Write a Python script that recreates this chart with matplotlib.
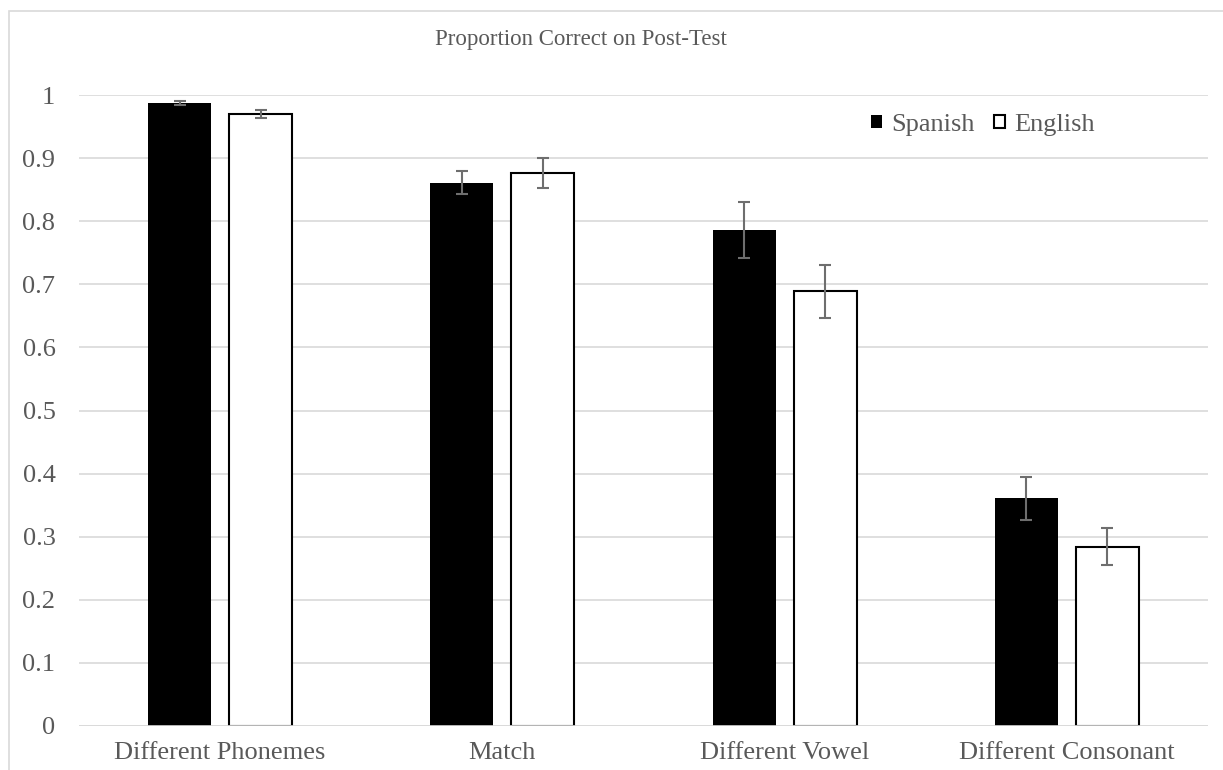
import matplotlib
matplotlib.use("Agg")
import matplotlib.pyplot as plt
import numpy as np
from matplotlib.patches import Rectangle, Patch

categories = ["Different Phonemes", "Match", "Different Vowel", "Different Consonant"]
spanish = [0.987, 0.861, 0.786, 0.361]
spanish_err = [0.003, 0.018, 0.045, 0.034]
english = [0.970, 0.876, 0.689, 0.284]
english_err = [0.007, 0.024, 0.042, 0.029]
yticks = [0, 0.1, 0.2, 0.3, 0.4, 0.5, 0.6, 0.7, 0.8, 0.9, 1]
ytick_labels = ["0", "0.1", "0.2", "0.3", "0.4", "0.5", "0.6", "0.7", "0.8", "0.9", "1"]
title = "Proportion Correct on Post-Test"

W, H = 1223, 770
plt.rcParams['font.family'] = ['Liberation Serif', 'DejaVu Serif']
text_color = "#595959"
grid_color = "#d9d9d9"
fs = 19

fig = plt.figure(figsize=(W / 100, H / 100), dpi=100)
fig.patches.append(Rectangle((9 / W, -0.05), 1.2, 1.05 - 11 / H, transform=fig.transFigure,
                             fill=False, edgecolor=grid_color, linewidth=1.2, zorder=0))

ax = fig.add_axes([79 / W, 1 - 726 / H, (1208 - 79) / W, (726 - 95) / H])
x = np.arange(len(categories))
off = 0.1435
bw = 0.224
err_kw = dict(ecolor="#6e6e6e", elinewidth=1.5, capsize=4.3, capthick=1.5)
ax.bar(x - off, spanish, bw, color="black", edgecolor="black", linewidth=0,
       yerr=spanish_err, error_kw=err_kw, zorder=2, label="Spanish")
ax.bar(x + off, english, bw, color="white", edgecolor="black", linewidth=1.5,
       yerr=english_err, error_kw=err_kw, zorder=2, label="English")

ax.set_xlim(-0.5, len(categories) - 0.5)
ax.set_ylim(0, 1)
ax.set_yticks(yticks)
ax.set_yticklabels(ytick_labels)
ax.set_xticks(x)
ax.set_xticklabels(categories)
ax.tick_params(axis='y', length=0, pad=17, labelsize=fs, labelcolor=text_color)
ax.tick_params(axis='x', length=0, pad=11.5, labelsize=fs, labelcolor=text_color)
for s in ax.spines.values():
    s.set_visible(False)
ax.yaxis.grid(True, color=grid_color, linewidth=1.2, zorder=0)
ax.set_axisbelow(True)
ax.axhline(0, color=grid_color, linewidth=1.2, zorder=3)

fig.text(581 / W, 1 - 40 / H, title, ha="center", va="center", fontsize=16.5, color=text_color)

handles = [Patch(facecolor="black", edgecolor="black", linewidth=0),
           Patch(facecolor="white", edgecolor="black", linewidth=1.5)]
leg = ax.legend(handles, ["Spanish", "English"], loc="center", ncol=2,
                bbox_to_anchor=((983 - 79) / (1208 - 79), (726 - 125) / (726 - 95)),
                frameon=False, fontsize=fs, handlelength=0.42, handleheight=0.42,
                handletextpad=0.35, columnspacing=0.75, labelcolor=text_color)

fig.savefig("out.png", dpi=100)
